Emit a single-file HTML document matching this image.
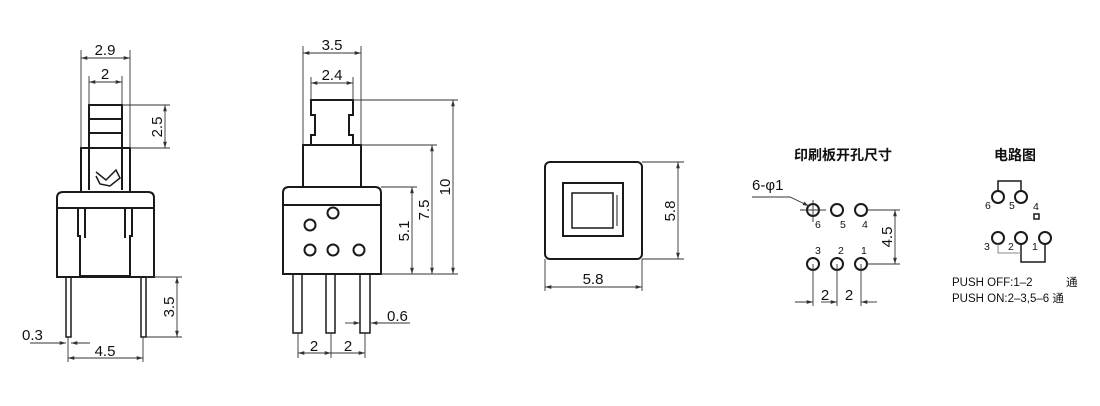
<!DOCTYPE html>
<html><head><meta charset="utf-8"><style>
html,body{margin:0;padding:0;background:#fff;}
svg{display:block;}
text{font-family:"Liberation Sans","Noto Sans CJK SC",sans-serif;fill:#111;}
</style></head><body>
<svg width="1100" height="406" viewBox="0 0 1100 406" xmlns="http://www.w3.org/2000/svg">
<defs>
<marker id="a" viewBox="0 0 10 10" refX="10" refY="5" markerWidth="7" markerHeight="7" orient="auto-start-reverse"><path d="M0,2 L10,5 L0,8z" fill="#333"/></marker>
</defs>
<g fill="none" stroke="#1a1a1a" stroke-width="2">
<rect x="89" y="105" width="33" height="43"/>
<line x1="89" y1="119" x2="122" y2="119"/><line x1="89" y1="133" x2="122" y2="133"/>
<rect x="81" y="148" width="49" height="44"/>
<line x1="89" y1="148" x2="89" y2="190"/><line x1="122" y1="148" x2="122" y2="190"/>
<path d="M96,172 L106,180 L116,170 L120,178 L110,186 L100,184 L96,176" stroke-width="1.5"/>
<path d="M57,277 L57,198 Q57,192 63,192 L148,192 Q154,192 154,198 L154,277 Z"/>
<line x1="57" y1="208" x2="154" y2="208"/>
<path d="M78,208 V236 H80 V276 H130 V236 H132 V208"/>
<path d="M85,208 V238 M125,208 V238"/>
<rect x="66" y="277" width="5" height="60" stroke-width="1.5"/>
<rect x="141" y="277" width="5" height="60" stroke-width="1.5"/>
<path d="M311,100 H353 V115 H349 V135 H353 V145 H311 V135 H315 V115 H311 Z"/>
<rect x="303" y="145" width="58" height="42"/>
<path d="M283,274 V193 Q283,187 289,187 L375,187 Q381,187 381,193 V274 Z"/>
<line x1="283" y1="205" x2="381" y2="205"/>
<circle cx="333" cy="213" r="5.5"/><circle cx="310" cy="225" r="5.5"/>
<circle cx="310" cy="250" r="5.5"/><circle cx="333" cy="250" r="5.5"/><circle cx="359" cy="250" r="5.5"/>
<rect x="293" y="274" width="9" height="59" stroke-width="1.5"/>
<rect x="326" y="274" width="9" height="59" stroke-width="1.5"/>
<rect x="360" y="274" width="10" height="59" stroke-width="1.5"/>
<rect x="545" y="162" width="97" height="97" rx="5"/>
<rect x="563" y="183" width="60" height="53"/>
<rect x="572" y="193" width="41" height="35" stroke-width="1.5"/>
<line x1="617" y1="195" x2="617" y2="226" stroke-width="1"/>
<circle cx="813" cy="210" r="6"/><circle cx="837" cy="210" r="6"/><circle cx="861" cy="210" r="6"/>
<circle cx="813" cy="264" r="6"/><circle cx="837" cy="264" r="6"/><circle cx="861" cy="264" r="6"/>
<circle cx="998" cy="197" r="6"/><circle cx="1021" cy="197" r="6"/>
<circle cx="998" cy="238" r="6"/><circle cx="1021" cy="238" r="6"/><circle cx="1045" cy="238" r="6"/>
<rect x="1034" y="214" width="5" height="5" stroke-width="1.5"/>
<path d="M998,191 V181 H1021 V191" stroke-width="1.5"/>
<path d="M1021,244 V262 H1045 V244" stroke-width="1.5"/>
<path d="M998,244 V253 H1021" stroke="#888" stroke-width="1"/>
</g>
<g stroke="#333" stroke-width="0.9" fill="none">
<line x1="81" y1="50" x2="81" y2="148"/><line x1="130" y1="50" x2="130" y2="148"/>
<line x1="81" y1="58" x2="130" y2="58" marker-start="url(#a)" marker-end="url(#a)"/>
<line x1="89" y1="76" x2="89" y2="105"/><line x1="122" y1="76" x2="122" y2="105"/>
<line x1="89" y1="82" x2="122" y2="82" marker-start="url(#a)" marker-end="url(#a)"/>
<line x1="122" y1="105" x2="170" y2="105"/><line x1="130" y1="148" x2="170" y2="148"/>
<line x1="165" y1="105" x2="165" y2="148" marker-start="url(#a)" marker-end="url(#a)"/>
<line x1="146" y1="277" x2="182" y2="277"/><line x1="146" y1="337" x2="182" y2="337"/>
<line x1="177" y1="277" x2="177" y2="337" marker-start="url(#a)" marker-end="url(#a)"/>
<line x1="68" y1="337" x2="68" y2="362"/><line x1="143" y1="337" x2="143" y2="362"/>
<line x1="68" y1="358" x2="143" y2="358" marker-start="url(#a)" marker-end="url(#a)"/>
<line x1="30" y1="343" x2="66" y2="343" marker-end="url(#a)"/><line x1="90" y1="343" x2="71" y2="343" marker-end="url(#a)"/>
<line x1="303" y1="46" x2="303" y2="145"/><line x1="361" y1="46" x2="361" y2="145"/>
<line x1="303" y1="53" x2="361" y2="53" marker-start="url(#a)" marker-end="url(#a)"/>
<line x1="311" y1="77" x2="311" y2="100"/><line x1="353" y1="77" x2="353" y2="100"/>
<line x1="311" y1="83" x2="353" y2="83" marker-start="url(#a)" marker-end="url(#a)"/>
<line x1="353" y1="100" x2="458" y2="100"/><line x1="361" y1="145" x2="437" y2="145"/>
<line x1="381" y1="187" x2="417" y2="187"/><line x1="381" y1="274" x2="458" y2="274"/>
<line x1="412" y1="187" x2="412" y2="274" marker-start="url(#a)" marker-end="url(#a)"/>
<line x1="432" y1="145" x2="432" y2="274" marker-start="url(#a)" marker-end="url(#a)"/>
<line x1="453" y1="100" x2="453" y2="274" marker-start="url(#a)" marker-end="url(#a)"/>
<line x1="298" y1="333" x2="298" y2="358"/><line x1="331" y1="333" x2="331" y2="358"/><line x1="365" y1="333" x2="365" y2="358"/>
<line x1="298" y1="353" x2="331" y2="353" marker-start="url(#a)" marker-end="url(#a)"/>
<line x1="331" y1="353" x2="365" y2="353" marker-end="url(#a)"/>
<line x1="345" y1="323" x2="360" y2="323" marker-end="url(#a)"/><line x1="410" y1="323" x2="371" y2="323" marker-end="url(#a)"/>
<line x1="642" y1="162" x2="684" y2="162"/><line x1="642" y1="259" x2="684" y2="259"/>
<line x1="678" y1="162" x2="678" y2="259" marker-start="url(#a)" marker-end="url(#a)"/>
<line x1="545" y1="259" x2="545" y2="291"/><line x1="642" y1="259" x2="642" y2="291"/>
<line x1="545" y1="287" x2="642" y2="287" marker-start="url(#a)" marker-end="url(#a)"/>
<path d="M752,197 H790 L809,206" marker-end="url(#a)"/>
<line x1="800" y1="210" x2="826" y2="210"/><line x1="813" y1="200" x2="813" y2="222"/>
<line x1="867" y1="210" x2="900" y2="210"/><line x1="867" y1="264" x2="900" y2="264"/>
<line x1="895" y1="210" x2="895" y2="264" marker-start="url(#a)" marker-end="url(#a)"/>
<line x1="813" y1="264" x2="813" y2="306"/><line x1="837" y1="264" x2="837" y2="306"/><line x1="861" y1="264" x2="861" y2="306"/>
<line x1="795" y1="302" x2="813" y2="302" marker-end="url(#a)"/><line x1="821" y1="302" x2="837" y2="302" marker-end="url(#a)"/>
<line x1="877" y1="302" x2="861" y2="302" marker-end="url(#a)"/>
</g>
<g font-size="15">
<text x="105" y="55" text-anchor="middle">2.9</text>
<text x="105" y="79" text-anchor="middle">2</text>
<text transform="translate(162,127) rotate(-90)" text-anchor="middle">2.5</text>
<text transform="translate(174,307) rotate(-90)" text-anchor="middle">3.5</text>
<text x="105" y="356" text-anchor="middle">4.5</text>
<text x="22" y="340">0.3</text>
<text x="332" y="50" text-anchor="middle">3.5</text>
<text x="332" y="80" text-anchor="middle">2.4</text>
<text transform="translate(409,231) rotate(-90)" text-anchor="middle">5.1</text>
<text transform="translate(429,210) rotate(-90)" text-anchor="middle">7.5</text>
<text transform="translate(450,187) rotate(-90)" text-anchor="middle">10</text>
<text x="314" y="351" text-anchor="middle">2</text>
<text x="348" y="351" text-anchor="middle">2</text>
<text x="387" y="321">0.6</text>
<text transform="translate(675,211) rotate(-90)" text-anchor="middle">5.8</text>
<text x="593" y="284" text-anchor="middle">5.8</text>
<text x="752" y="190">6-φ1</text>
<text transform="translate(892,237) rotate(-90)" text-anchor="middle">4.5</text>
<text x="825" y="300" text-anchor="middle">2</text>
<text x="849" y="300" text-anchor="middle">2</text>
</g>
<g font-size="14" font-weight="bold">
<text x="843" y="160" text-anchor="middle">印刷板开孔尺寸</text>
<text x="1015" y="160" text-anchor="middle">电路图</text>
</g>
<g font-size="10.5">
<text x="815" y="228">6</text><text x="840" y="228">5</text><text x="862" y="228">4</text>
<text x="815" y="254">3</text><text x="838" y="254">2</text><text x="861" y="254">1</text>
<text x="985" y="209">6</text><text x="1009" y="209">5</text><text x="1033" y="210">4</text>
<text x="984" y="250">3</text><text x="1008" y="250">2</text><text x="1032" y="250">1</text>
</g>
<g font-size="11.5">
<text x="952" y="286">PUSH OFF:1–2</text><text x="1066" y="286">通</text>
<text x="952" y="302">PUSH ON:2–3,5–6 通</text>
</g>
</svg>
</body></html>
